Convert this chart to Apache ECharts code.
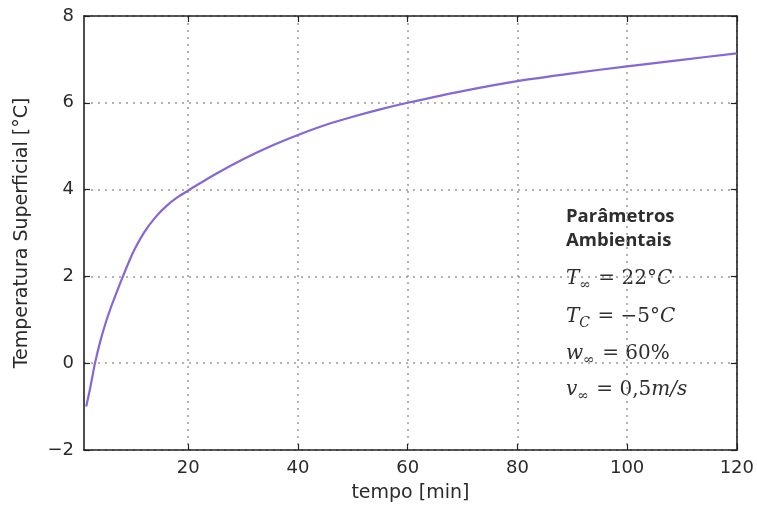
<!DOCTYPE html>
<html><head><meta charset="utf-8">
<script src="https://cdn.jsdelivr.net/npm/echarts@6/dist/echarts.min.js"></script>
<style>html,body{margin:0;padding:0;background:#fff}#c{width:757px;height:508px}</style>
</head><body><div id="c"></div>
<script>
const tempo = [1.4, 2, 2.5, 3, 4, 5, 6, 7, 8, 9, 10, 12, 14, 16, 18, 20, 25, 30, 35, 40, 45, 50, 55, 60, 70, 80, 90, 100, 110, 120];
const temperatura = [-1.0, -0.65, -0.33, 0.0, 0.52, 0.95, 1.32, 1.65, 1.97, 2.28, 2.57, 3.02, 3.36, 3.62, 3.82, 3.98, 4.36, 4.70, 5.00, 5.26, 5.49, 5.68, 5.85, 6.0, 6.27, 6.50, 6.68, 6.84, 6.99, 7.14];
const xTicks = [20, 40, 60, 80, 100, 120];
const yTicks = [-2, 0, 2, 4, 6, 8];
const xTitle = 'tempo [min]';
const yTitle = 'Temperatura Superficial [°C]';

const chart = echarts.init(document.getElementById('c'), null, {renderer: 'canvas'});
const fmt = v => String(v).replace('-', '\u2212');
const lbl = {color: '#2a2a2a', fontFamily: 'DejaVu Sans', fontSize: 18};
const grid = {type: [2, 5], color: '#999', width: 1.5};
const frame = {show: true, onZero: false, lineStyle: {color: '#222', width: 1.6}};
const tick = {color: '#222', width: 1.2};

chart.setOption({
  animation: false,
  grid: {left: 84, right: 18, top: 16, bottom: 58, containLabel: false},
  xAxis: [{
    type: 'value', min: 1, max: 120,
    axisLine: frame,
    axisTick: {show: true, inside: true, length: 6, customValues: xTicks, lineStyle: tick},
    axisLabel: Object.assign({customValues: xTicks, margin: 9, formatter: fmt}, lbl),
    splitLine: {show: true, lineStyle: grid},
    name: xTitle, nameLocation: 'middle', nameGap: 34,
    nameTextStyle: {color: '#2a2a2a', fontFamily: 'DejaVu Sans', fontSize: 19}
  }, {
    type: 'value', min: 1, max: 120, position: 'top',
    axisLine: frame,
    axisTick: {show: true, inside: true, length: 6, customValues: xTicks, lineStyle: tick},
    axisLabel: {show: false}, splitLine: {show: false}
  }],
  yAxis: [{
    type: 'value', min: -2, max: 8, interval: 2,
    axisLine: frame,
    axisTick: {show: true, inside: true, length: 6, lineStyle: tick},
    axisLabel: Object.assign({margin: 10, formatter: fmt}, lbl),
    splitLine: {show: true, lineStyle: grid},
    name: yTitle, nameLocation: 'middle', nameGap: 52,
    nameTextStyle: {color: '#2a2a2a', fontFamily: 'DejaVu Sans', fontSize: 19}
  }, {
    type: 'value', min: -2, max: 8, interval: 2, position: 'right',
    axisLine: frame,
    axisTick: {show: true, inside: true, length: 6, lineStyle: tick},
    axisLabel: {show: false}, splitLine: {show: false}
  }],
  series: [{
    type: 'line', xAxisIndex: 0, yAxisIndex: 0,
    data: tempo.map((t, i) => [t, temperatura[i]]),
    smooth: 0.3, showSymbol: false, symbol: 'none',
    lineStyle: {color: '#8766d6', width: 2.2, join: 'round'}
  }],
  graphic: (function () {
    const rich = {
      i: {fontFamily: 'DejaVu Serif', fontStyle: 'italic', fontSize: 20, fill: '#2e2e2e'},
      n: {fontFamily: 'DejaVu Serif', fontSize: 20, fill: '#2e2e2e'},
      s: {fontFamily: 'DejaVu Serif', fontStyle: 'italic', fontSize: 14, fill: '#2e2e2e', padding: [12, 1, 0, 0]}
    };
    return [{
      type: 'group', left: 566, top: 207,
      children: [
        {type: 'text', left: 0, top: 0, style: {text: 'Parâmetros', font: 'bold 18.5px "Open Sans"', fill: '#2e2e2e'}},
        {type: 'text', left: 0, top: 24, style: {text: 'Ambientais', font: 'bold 18.5px "Open Sans"', fill: '#2e2e2e'}},
        {type: 'text', left: 0, top: 62, style: {text: '{i|T}{s|\u221E}{n| = 22°}{i|C}', rich: rich}},
        {type: 'text', left: 0, top: 100, style: {text: '{i|T}{s|C}{n| = \u22125°}{i|C}', rich: rich}},
        {type: 'text', left: 0, top: 137, style: {text: '{i|w}{s|\u221E}{n| = 60%}', rich: rich}},
        {type: 'text', left: 0, top: 173, style: {text: '{i|v}{s|\u221E}{n| = 0,5}{i|m/s}', rich: rich}}
      ]
    }];
  })()
});
</script></body></html>
